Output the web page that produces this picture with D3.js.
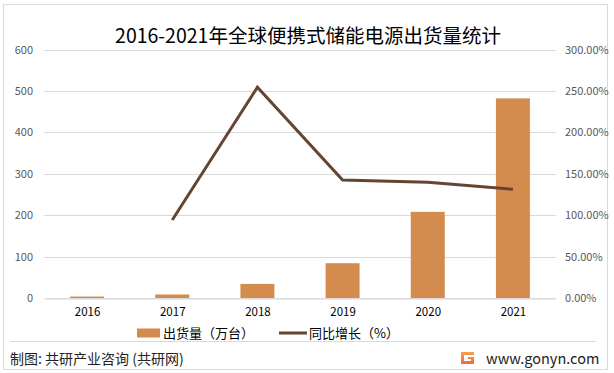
<!DOCTYPE html>
<html>
<head>
<meta charset="utf-8">
<script src="https://cdn.jsdelivr.net/npm/d3@7"></script>
<style>
  body { margin: 0; background: #fff; }
  svg text { font-family: "Noto Sans CJK SC", "Microsoft YaHei", sans-serif; }
</style>
</head>
<body>
<svg id="chart" width="614" height="373"></svg>
<script>
// data
const years = ["2016", "2017", "2018", "2019", "2020", "2021"];
const shipments = [3.5, 8.5, 34, 84, 208, 482];          // 万台
const growth = [null, 94.2, 254.4, 142.5, 139.7, 131.2];  // %
const leftTicks = [0, 100, 200, 300, 400, 500, 600];
const rightTicks = [0, 50, 100, 150, 200, 250, 300];

const svg = d3.select("#chart");

const barColor = "#D48C4E";
const lineColor = "#634532";
const gridColor = "#D9D9D9";

let plotLeft = 44.5, plotRight = 555.5, plotTop = 49.5, plotBottom = 298;

// outer frame
svg.append("rect")
  .attr("x", 3.5).attr("y", 4.5)
  .attr("width", 604).attr("height", 365)
  .attr("fill", "#fff").attr("stroke", "#D9D9D9");

// title
svg.append("text")
  .attr("x", 308).attr("y", 43)
  .attr("text-anchor", "middle")
  .attr("font-size", "19.5px")
  .attr("fill", "#000")
  .text("2016-2021年全球便携式储能电源出货量统计");

let xc = d3.scalePoint().domain(years).range([plotLeft, plotRight]).padding(0.5);
let y = d3.scaleLinear().domain([0, 600]).range([plotBottom, plotTop]);
let y2 = d3.scaleLinear().domain([0, 300]).range([plotBottom, plotTop]);

// gridlines
svg.append("g")
  .selectAll("line")
  .data(leftTicks)
  .enter()
  .append("line")
  .attr("x1", plotLeft).attr("x2", plotRight)
  .attr("y1", d => Math.round(y(d)) + 0.5)
  .attr("y2", d => Math.round(y(d)) + 0.5)
  .attr("stroke", gridColor).attr("stroke-width", 1);

// left axis labels
let yAxis = d3.axisLeft(y).tickValues(leftTicks).tickSize(0).tickPadding(0);
let gy = svg.append("g")
  .attr("transform", "translate(33,0)")
  .call(yAxis);
gy.select(".domain").remove();
gy.selectAll("text").attr("font-size", "11px").attr("fill", "#595959")
  .attr("font-family", "'Noto Sans', 'DejaVu Sans', sans-serif");

// right axis labels
let yAxis2 = d3.axisRight(y2).tickValues(rightTicks).tickSize(0).tickPadding(0)
  .tickFormat(d => d.toFixed(2) + "%");
let gy2 = svg.append("g")
  .attr("transform", "translate(565,0)")
  .call(yAxis2);
gy2.select(".domain").remove();
gy2.selectAll("text").attr("font-size", "11px").attr("fill", "#595959")
  .attr("font-family", "'Noto Sans', 'DejaVu Sans', sans-serif");

// bars
svg.append("g")
  .selectAll("rect")
  .data(years)
  .enter()
  .append("rect")
  .attr("x", d => xc(d) - 17)
  .attr("width", 34)
  .attr("y", (d, i) => y(shipments[i]))
  .attr("height", (d, i) => plotBottom - y(shipments[i]))
  .attr("fill", barColor);

// x axis
let xAxis = d3.axisBottom(xc).tickSize(0).tickPadding(9);
let gx = svg.append("g")
  .attr("transform", "translate(0," + (plotBottom + 0.5) + ")")
  .call(xAxis);
gx.select(".domain").attr("stroke", gridColor);
gx.selectAll("text").attr("font-size", "11.5px").attr("fill", "#000")
  .attr("font-family", "'Noto Sans', 'DejaVu Sans', sans-serif");

// growth line
let line = d3.line()
  .defined(d => d.v != null)
  .x(d => xc(d.year))
  .y(d => y2(d.v));

svg.append("path")
  .datum(years.map((yr, i) => ({year: yr, v: growth[i]})))
  .attr("d", line)
  .attr("fill", "none")
  .attr("stroke", lineColor)
  .attr("stroke-width", 3)
  .attr("stroke-linejoin", "miter");

// legend
let lg = svg.append("g");
lg.append("rect").attr("x", 137).attr("y", 328.5).attr("width", 23).attr("height", 9).attr("fill", barColor);
lg.append("text").attr("x", 163).attr("y", 338).attr("font-size", "13px").attr("fill", "#000")
  .text("出货量（万台）");
lg.append("line").attr("x1", 279).attr("x2", 307).attr("y1", 333).attr("y2", 333)
  .attr("stroke", lineColor).attr("stroke-width", 3);
lg.append("text").attr("x", 309).attr("y", 338).attr("font-size", "13px").attr("fill", "#000")
  .text("同比增长（%）");

// footer
svg.append("line").attr("x1", 10).attr("x2", 596).attr("y1", 341.5).attr("y2", 341.5)
  .attr("stroke", "#D9D9D9");
svg.append("text").attr("x", 10).attr("y", 364).attr("font-size", "14px").attr("fill", "#222")
  .text("制图: 共研产业咨询 (共研网)");

let grad = svg.append("defs").append("linearGradient").attr("id", "logoGrad")
  .attr("x1", 0).attr("y1", 0).attr("x2", 0).attr("y2", 1);
grad.append("stop").attr("offset", "0%").attr("stop-color", "#F7A24A");
grad.append("stop").attr("offset", "100%").attr("stop-color", "#EF6A3A");
svg.append("path")
  .attr("d", "M461,352 h13 v3 h-10 v6 h7 v-2 h-3 v-2 h6 v7 h-13 z")
  .attr("fill", "url(#logoGrad)");
svg.append("text").attr("x", 486).attr("y", 364).attr("font-size", "14.5px").attr("fill", "#222")
  .attr("font-family", "'Noto Sans', 'DejaVu Sans', sans-serif")
  .text("www.gonyn.com");
</script>
</body>
</html>
